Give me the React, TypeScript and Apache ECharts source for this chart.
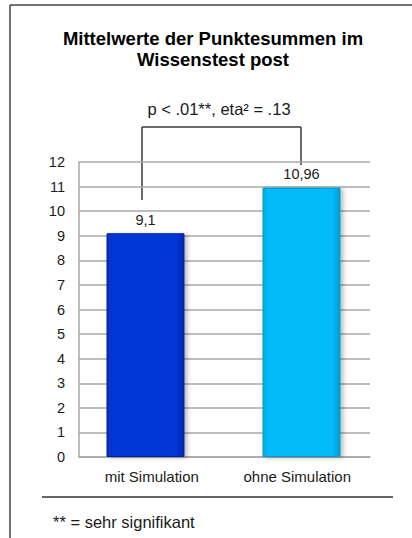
import React, { useEffect, useRef } from "react";
import * as echarts from "echarts";

const categories = ["mit Simulation", "ohne Simulation"];
const values = [9.1, 10.96];
const yMin = 0;
const yMax = 12;
const yInterval = 1;
const titleLines = ["Mittelwerte der Punktesummen im", "Wissenstest post"];
const annotation = "p < .01**, eta² = .13";
const footnote = "** = sehr signifikant";

const FONT = "'Liberation Sans', Arial, sans-serif";

export default function App() {
  const ref = useRef<HTMLDivElement>(null);
  useEffect(() => {
    if (!ref.current) return;
    const chart = echarts.init(ref.current, undefined, { renderer: "svg" });
    const barColors = [
      new echarts.graphic.LinearGradient(0, 0, 1, 0, [
        { offset: 0, color: "#0A2CB8" },
        { offset: 0.07, color: "#0535D8" },
        { offset: 0.9, color: "#0535D8" },
        { offset: 1, color: "#0326A8" },
      ]),
      new echarts.graphic.LinearGradient(0, 0, 1, 0, [
        { offset: 0, color: "#08A8E0" },
        { offset: 0.07, color: "#00BBF8" },
        { offset: 0.9, color: "#00BBF8" },
        { offset: 1, color: "#069BCF" },
      ]),
    ];
    const borderColors = ["#0224A0", "#0896C6"];
    const lineStyle = { stroke: "#3a3a3a", lineWidth: 1.5 };
    chart.setOption({
      animation: false,
      textStyle: { fontFamily: FONT },
      grid: [
        { left: 79, right: 42, top: 162, bottom: 81 },
        { left: 67.5, right: 32.5, top: 162, bottom: 81 },
      ],
      xAxis: [
        {
          type: "category",
          gridIndex: 0,
          data: categories,
          axisLine: { lineStyle: { color: "#A8A8A8", width: 1.5 } },
          axisTick: { show: false },
          axisLabel: { color: "#1a1a1a", fontSize: 15, margin: 12, fontFamily: FONT },
        },
        {
          type: "category",
          gridIndex: 1,
          data: categories,
          show: false,
        },
      ],
      yAxis: [
        {
          type: "value",
          gridIndex: 0,
          min: yMin,
          max: yMax,
          interval: yInterval,
          axisLine: { show: true, lineStyle: { color: "#A8A8A8", width: 1.5 } },
          axisTick: { show: false },
          axisLabel: { color: "#1a1a1a", fontSize: 14.5, margin: 14, fontFamily: FONT },
          splitLine: { lineStyle: { color: "#A8A8A8", width: 1.5 } },
        },
        {
          type: "value",
          gridIndex: 1,
          min: yMin,
          max: yMax,
          interval: yInterval,
          show: false,
          splitLine: { show: false },
        },
      ],
      series: [
        {
          type: "bar",
          xAxisIndex: 1,
          yAxisIndex: 1,
          barWidth: 78,
          data: values.map((v, i) => ({
            value: v,
            itemStyle: {
              color: barColors[i],
              borderColor: borderColors[i],
              borderWidth: 1,
              shadowColor: "rgba(0,0,0,0.25)",
              shadowBlur: 4,
              shadowOffsetX: 3,
              shadowOffsetY: 1,
            },
          })),
          label: {
            show: true,
            position: "top",
            distance: 6,
            fontSize: 14.5,
            color: "#1a1a1a",
            fontFamily: FONT,
            formatter: (p: any) => String(p.value).replace(".", ","),
          },
        },
      ],
      graphic: [
        { type: "line", shape: { x1: 10, y1: 5, x2: 412, y2: 5 }, style: { stroke: "#444", lineWidth: 1.5 } },
        { type: "line", shape: { x1: 10, y1: 5, x2: 10, y2: 538 }, style: { stroke: "#444", lineWidth: 1.5 } },
        {
          type: "text",
          x: 213,
          y: 38,
          style: {
            text: titleLines[0],
            fontSize: 18.5,
            fontWeight: "bold",
            fontFamily: FONT,
            fill: "#000",
            align: "center",
            verticalAlign: "middle",
          },
        },
        {
          type: "text",
          x: 213,
          y: 59,
          style: {
            text: titleLines[1],
            fontSize: 18.5,
            fontWeight: "bold",
            fontFamily: FONT,
            fill: "#000",
            align: "center",
            verticalAlign: "middle",
          },
        },
        {
          type: "text",
          x: 219,
          y: 109,
          style: {
            text: annotation,
            fontSize: 16.5,
            fontFamily: FONT,
            fill: "#1a1a1a",
            align: "center",
            verticalAlign: "middle",
          },
        },
        { type: "line", shape: { x1: 142, y1: 127, x2: 301, y2: 127 }, style: lineStyle },
        { type: "line", shape: { x1: 142, y1: 127, x2: 142, y2: 200 }, style: lineStyle },
        { type: "line", shape: { x1: 301, y1: 127, x2: 301, y2: 165 }, style: lineStyle },
        { type: "line", shape: { x1: 42, y1: 497, x2: 393, y2: 497 }, style: { stroke: "#333", lineWidth: 1.5 } },
        {
          type: "text",
          x: 53,
          y: 522,
          style: {
            text: footnote,
            fontSize: 16.5,
            fontFamily: FONT,
            fill: "#1a1a1a",
            align: "left",
            verticalAlign: "middle",
          },
        },
      ],
    });
    return () => chart.dispose();
  }, []);
  return (
    <div
      ref={ref}
      style={{ position: "fixed", left: 0, top: 0, width: 412, height: 538, background: "#fff" }}
    />
  );
}
